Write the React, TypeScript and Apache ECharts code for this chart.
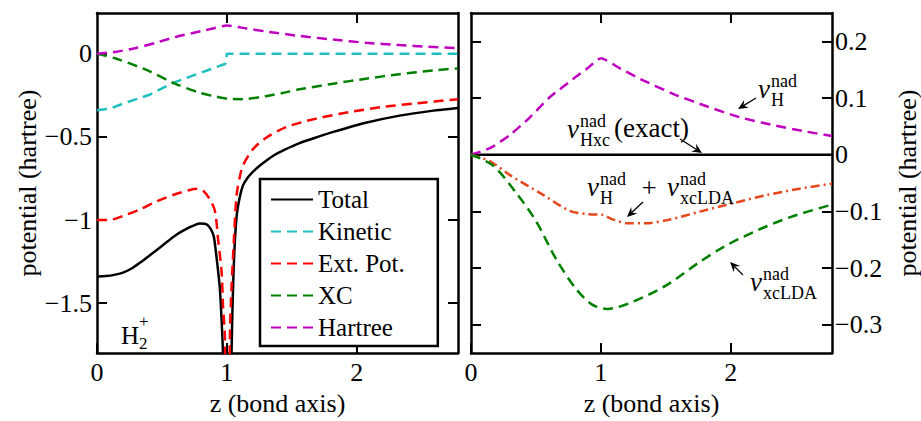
import React, { useEffect, useRef } from "react";
import * as echarts from "echarts";

type P = [number, number];

const X_MAX = 2.78;
const xTicks = [0, 1, 2];
const leftYTicks = [-1.5, -1, -0.5, 0];
const rightYTicks = [-0.3, -0.2, -0.1, 0, 0.1, 0.2];

const legendNames = ["Total", "Kinetic", "Ext. Pot.", "XC", "Hartree"];

const totalPot: P[] = [
  [0, -1.34], [0.07, -1.337], [0.14, -1.328], [0.2, -1.316], [0.27, -1.29], [0.33, -1.257],
  [0.4, -1.216], [0.46, -1.18], [0.53, -1.137], [0.59, -1.1], [0.65, -1.07], [0.715, -1.043],
  [0.79, -1.02], [0.83, -1.022], [0.856, -1.033], [0.88, -1.06], [0.9, -1.1], [0.92, -1.22],
  [0.946, -1.41], [0.96, -1.61], [0.97, -1.8], [0.985, -2.6], [1.0, -4], [1.02, -2.6],
  [1.036, -1.8], [1.044, -1.51], [1.056, -1.22], [1.075, -0.98], [1.1, -0.86], [1.125, -0.79],
  [1.16, -0.745], [1.2, -0.71], [1.25, -0.675], [1.3, -0.645], [1.36, -0.612], [1.45, -0.575],
  [1.56, -0.537], [1.7, -0.5], [1.82, -0.47], [2.07, -0.415], [2.33, -0.372], [2.59, -0.342],
  [2.78, -0.326],
];

const kinetic: P[] = [
  [0, -0.34], [0.1, -0.33], [0.2, -0.3], [0.41, -0.245], [0.585, -0.175], [0.79, -0.117],
  [0.99, -0.06], [1.0, 0], [2.78, 0],
];

const extPot: P[] = [
  [0, -1.0], [0.087, -1.0], [0.2, -0.975], [0.33, -0.936], [0.46, -0.887], [0.59, -0.848],
  [0.715, -0.819], [0.77, -0.812], [0.82, -0.825], [0.87, -0.877], [0.908, -0.945],
  [0.933, -1.12], [0.96, -1.316], [0.97, -1.51], [0.985, -1.71], [1.0, -4], [1.023, -1.71],
  [1.036, -1.41], [1.054, -1.12], [1.075, -0.85], [1.1, -0.74], [1.125, -0.67], [1.2, -0.575],
  [1.3, -0.507], [1.46, -0.44], [1.69, -0.39], [1.95, -0.35], [2.2, -0.32], [2.46, -0.298],
  [2.78, -0.273],
];

const xcPot: P[] = [
  [0, 0], [0.15, -0.03], [0.41, -0.107], [0.585, -0.175], [0.79, -0.234], [0.9, -0.255],
  [1.0, -0.27], [1.12, -0.273], [1.3, -0.255], [1.43, -0.236], [1.56, -0.214], [1.82, -0.18],
  [2.07, -0.15], [2.33, -0.123], [2.59, -0.1], [2.78, -0.088],
];

const hartree: P[] = [
  [0, 0], [0.15, 0.012], [0.3, 0.035], [0.45, 0.065], [0.6, 0.1], [0.8, 0.136], [0.9, 0.153],
  [1.0, 0.17], [1.15, 0.152], [1.3, 0.134], [1.56, 0.107], [1.82, 0.085], [2.07, 0.066],
  [2.33, 0.052], [2.55, 0.042], [2.78, 0.033],
];

const vHxcExact: P[] = [[0, 0], [2.78, 0]];

const vHplusLDA: P[] = [
  [0, 0], [0.15, -0.012], [0.3, -0.036], [0.55, -0.07], [0.76, -0.099], [0.91, -0.105],
  [1.01, -0.106], [1.09, -0.114], [1.21, -0.121], [1.34, -0.121], [1.52, -0.115],
  [1.77, -0.1], [2.03, -0.085], [2.28, -0.071], [2.53, -0.06], [2.78, -0.051],
];

const vxcLDA: P[] = [
  [0, 0], [0.17, -0.019], [0.35, -0.068], [0.5, -0.117], [0.66, -0.186], [0.81, -0.237],
  [0.93, -0.264], [1.05, -0.272], [1.24, -0.26], [1.5, -0.231], [1.75, -0.191], [1.95, -0.162],
  [2.2, -0.134], [2.46, -0.11], [2.78, -0.088],
];

const FONT = "Liberation Serif";
const DASH = [10, 6];
const DASHDOT = [9, 4, 2, 4];

const fmt = (v: number) => (v < 0 ? "\u2212" + String(Math.abs(v)) : String(v));

function txt(x: number, y: number, text: string, size: number, italic = false, align = "left") {
  return {
    type: "text",
    x,
    y,
    z: 100,
    style: {
      text,
      fontSize: size,
      fontFamily: FONT,
      fontStyle: italic ? "italic" : "normal",
      fill: "#000",
      align,
      verticalAlign: "middle",
    },
  };
}

function arrow(x1: number, y1: number, x2: number, y2: number) {
  const dx = x2 - x1, dy = y2 - y1;
  const L = Math.hypot(dx, dy);
  const ux = dx / L, uy = dy / L;
  const px = -uy, py = ux;
  const hl = 10, hw = 4.5, notch = 6.5;
  const bx = x2 - ux * hl, by = y2 - uy * hl;
  return [
    {
      type: "line",
      z: 100,
      shape: { x1, y1, x2: x2 - ux * notch, y2: y2 - uy * notch },
      style: { stroke: "#000", lineWidth: 1.3 },
    },
    {
      type: "polygon",
      z: 100,
      shape: {
        points: [
          [x2, y2],
          [bx + px * hw, by + py * hw],
          [x2 - ux * notch, y2 - uy * notch],
          [bx - px * hw, by - py * hw],
        ],
      },
      style: { fill: "#000" },
    },
  ];
}

function mathV(x: number, yc: number, sup: string, sub: string) {
  return [
    txt(x, yc - 3, "v", 27, true),
    txt(x + 13, yc - 11, sup, 18),
    txt(x + 13, yc + 8, sub, 18),
  ];
}

export default function App() {
  const ref = useRef<HTMLDivElement>(null);
  useEffect(() => {
    if (!ref.current) return;
    const chart = echarts.init(ref.current, undefined, { renderer: "svg" });
    const axisLine = { onZero: false, lineStyle: { color: "#000", width: 2.5 } };
    const labelStyle = { color: "#000", fontSize: 26, fontFamily: FONT };
    const tickStyle = { inside: true, length: 10, lineStyle: { color: "#000", width: 2 } };

    const xAxisBase = (grid: number, pos: "bottom" | "top", labels: boolean) => ({
      type: "value",
      gridIndex: grid,
      position: pos,
      min: 0,
      max: X_MAX,
      axisLine,
      splitLine: { show: false },
      axisTick: { ...tickStyle, customValues: pos === "top" ? [1, 2] : xTicks },
      axisLabel: labels
        ? { ...labelStyle, customValues: xTicks, formatter: fmt, margin: 6 }
        : { show: false },
      ...(labels
        ? {
            name: "z (bond axis)",
            nameLocation: "middle",
            nameGap: 32,
            nameTextStyle: { ...labelStyle },
          }
        : {}),
    });

    const line = (name: string, data: P[], color: string, type: any, xi: number, yi: number, smooth = 0.3) => ({
      type: "line",
      name,
      data,
      xAxisIndex: xi,
      yAxisIndex: yi,
      symbol: "none",
      showSymbol: false,
      silent: true,
      smooth,
      lineStyle: { color, width: 2.5, type },
      itemStyle: { color, opacity: 0 },
      emphasis: { disabled: true },
    });

    const graphics: any[] = [
      // H2+ label
      txt(121, 335, "H", 25),
      txt(139, 343, "2", 17),
      txt(139, 321, "+", 17),
      // v_H^nad
      ...mathV(758, 92, "nad", "H"),
      ...arrow(756, 98, 738, 109),
      // v_Hxc^nad (exact)
      ...mathV(567, 132, "nad", "Hxc"),
      txt(614, 128, "(exact)", 27),
      ...arrow(680, 139, 702, 153),
      // v_H^nad + v_xcLDA^nad
      ...mathV(587, 190, "nad", "H"),
      txt(649, 188, "+", 27, false, "center"),
      ...mathV(667, 190, "nad", "xcLDA"),
      ...arrow(643, 202, 627, 217),
      // v_xcLDA^nad
      ...mathV(750, 285, "nad", "xcLDA"),
      ...arrow(743, 275, 730, 262),
    ];

    const option: any = {
      animation: false,
      backgroundColor: "#fff",
      textStyle: { fontFamily: FONT },
      grid: [
        { left: 97, top: 13, width: 361, height: 350 },
        { left: 471, top: 13, width: 366, height: 350 },
      ],
      legend: {
        data: legendNames,
        orient: "vertical",
        left: 260,
        top: 179,
        itemWidth: 42,
        itemHeight: 14,
        itemGap: 7,
        selectedMode: false,
        backgroundColor: "#fff",
        borderColor: "#000",
        borderWidth: 2.5,
        borderRadius: 0,
        padding: [8, 33, 6, 10],
        itemStyle: { opacity: 0 },
        textStyle: { color: "#000", fontSize: 25, fontFamily: FONT, lineHeight: 25 },
        z: 50,
      },
      xAxis: [
        xAxisBase(0, "bottom", true),
        xAxisBase(0, "top", false),
        xAxisBase(1, "bottom", true),
        xAxisBase(1, "top", false),
      ],
      yAxis: [
        {
          type: "value",
          gridIndex: 0,
          position: "left",
          min: -1.8,
          max: 0.245,
          axisLine,
          splitLine: { show: false },
          axisTick: { ...tickStyle, customValues: leftYTicks },
          axisLabel: { ...labelStyle, customValues: leftYTicks, formatter: fmt, margin: 5 },
          name: "potential (hartree)",
          nameLocation: "middle",
          nameRotate: 90,
          nameGap: 52,
          nameTextStyle: { ...labelStyle },
        },
        {
          type: "value",
          gridIndex: 0,
          position: "right",
          min: -1.8,
          max: 0.245,
          axisLine,
          splitLine: { show: false },
          axisTick: { ...tickStyle, customValues: leftYTicks },
          axisLabel: { show: false },
        },
        {
          type: "value",
          gridIndex: 1,
          position: "left",
          min: -0.35,
          max: 0.25,
          axisLine,
          splitLine: { show: false },
          axisTick: { ...tickStyle, customValues: rightYTicks },
          axisLabel: { show: false },
        },
        {
          type: "value",
          gridIndex: 1,
          position: "right",
          min: -0.35,
          max: 0.25,
          axisLine,
          splitLine: { show: false },
          axisTick: { ...tickStyle, customValues: rightYTicks },
          axisLabel: { ...labelStyle, customValues: rightYTicks, formatter: fmt, margin: 3 },
          name: "potential (hartree)",
          nameLocation: "middle",
          nameRotate: 90,
          nameGap: 62,
          nameTextStyle: { ...labelStyle },
        },
      ],
      series: [
        line("Total", totalPot, "#000", "solid", 0, 0, 0.2),
        line("Kinetic", kinetic, "#1fbfbf", DASH, 0, 0, 0),
        line("Ext. Pot.", extPot, "#ff0000", DASH, 0, 0),
        line("XC", xcPot, "#008000", DASH, 0, 0),
        line("Hartree", hartree, "#bf00bf", DASH, 0, 0, 0.2),
        line("v_Hxc exact", vHxcExact, "#000", "solid", 2, 2, 0),
        line("v_H nad", hartree, "#bf00bf", DASH, 2, 2, 0.2),
        line("v_H + v_xcLDA", vHplusLDA, "#e5461c", DASHDOT, 2, 2),
        line("v_xcLDA", vxcLDA, "#008000", DASH, 2, 2),
      ],
      graphic: graphics,
    };
    chart.setOption(option);
    return () => chart.dispose();
  }, []);
  return (
    <div
      ref={ref}
      style={{ position: "fixed", left: 0, top: 0, width: 921, height: 421, background: "#fff" }}
    />
  );
}
